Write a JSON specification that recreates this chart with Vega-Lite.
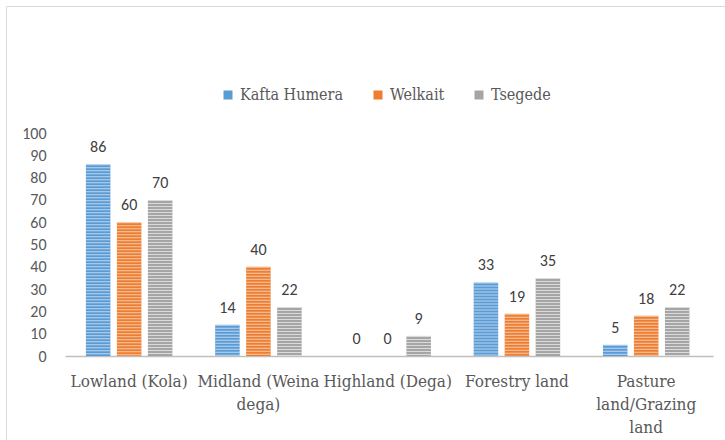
{
  "$schema": "https://vega.github.io/schema/vega-lite/v6.json",
  "autosize": "none",
  "padding": {"left": 6, "top": 6, "right": -1, "bottom": -1},
  "width": 720,
  "height": 435,
  "background": "white",
  "config": {"view": {"stroke": "#d9d9d9", "strokeWidth": 1}},
  "data": {
    "values": [
      {"region": "Lowland (Kola)", "district": "Kafta Humera", "value": 86},
      {"region": "Lowland (Kola)", "district": "Welkait", "value": 60},
      {"region": "Lowland (Kola)", "district": "Tsegede", "value": 70},
      {"region": "Midland (Weina dega)", "district": "Kafta Humera", "value": 14},
      {"region": "Midland (Weina dega)", "district": "Welkait", "value": 40},
      {"region": "Midland (Weina dega)", "district": "Tsegede", "value": 22},
      {"region": "Highland (Dega)", "district": "Kafta Humera", "value": 0},
      {"region": "Highland (Dega)", "district": "Welkait", "value": 0},
      {"region": "Highland (Dega)", "district": "Tsegede", "value": 9},
      {"region": "Forestry land", "district": "Kafta Humera", "value": 33},
      {"region": "Forestry land", "district": "Welkait", "value": 19},
      {"region": "Forestry land", "district": "Tsegede", "value": 35},
      {"region": "Pasture land/Grazing land", "district": "Kafta Humera", "value": 5},
      {"region": "Pasture land/Grazing land", "district": "Welkait", "value": 18},
      {"region": "Pasture land/Grazing land", "district": "Tsegede", "value": 22}
    ]
  },
  "encoding": {
    "x": {
      "field": "region",
      "type": "nominal",
      "sort": ["Lowland (Kola)", "Midland (Weina dega)", "Highland (Dega)", "Forestry land", "Pasture land/Grazing land"],
      "scale": {"range": [59, 707], "paddingInner": 0.331, "paddingOuter": 0.172, "align": 0.47},
      "axis": {
        "title": null,
        "domainColor": "#bfbfbf",
        "domainWidth": 1.5,
        "ticks": false,
        "grid": false,
        "labelAngle": 0,
        "labelFont": "DejaVu Serif Condensed",
        "labelFontSize": 17,
        "labelColor": "#595959",
        "labelPadding": 17,
        "labelLineHeight": 23,
        "labelOverlap": false,
        "labelLimit": 300,
        "offset": -85,
        "labelExpr": "datum.label == 'Midland (Weina dega)' ? ['Midland (Weina', 'dega)'] : datum.label == 'Pasture land/Grazing land' ? ['Pasture', 'land/Grazing', 'land'] : datum.label"
      }
    },
    "xOffset": {
      "field": "district",
      "type": "nominal",
      "sort": ["Kafta Humera", "Welkait", "Tsegede"],
      "scale": {"paddingInner": 0.21, "paddingOuter": 0}
    },
    "y": {
      "field": "value",
      "type": "quantitative",
      "scale": {"domain": [0, 100], "range": [350, 127], "nice": false},
      "axis": {
        "title": null,
        "domain": false,
        "ticks": false,
        "grid": false,
        "values": [0, 10, 20, 30, 40, 50, 60, 70, 80, 90, 100],
        "labelFont": "Carlito, Liberation Sans, sans-serif",
        "labelFontSize": 16,
        "labelColor": "#595959",
        "labelPadding": 8,
        "offset": -48
      }
    }
  },
  "layer": [
    {
      "mark": {"type": "bar"},
      "encoding": {
        "color": {
          "field": "district",
          "type": "nominal",
          "sort": ["Kafta Humera", "Welkait", "Tsegede"],
          "scale": {"domain": ["Kafta Humera", "Welkait", "Tsegede"], "range": ["#5B9BD5", "#ED7D31", "#A5A5A5"]},
          "legend": {
            "title": null,
            "orient": "none",
            "direction": "horizontal",
            "legendX": 214,
            "legendY": 81,
            "symbolType": "square",
            "symbolSize": 81,
            "symbolStrokeWidth": 0,
            "labelFont": "DejaVu Serif Condensed",
            "labelFontSize": 16,
            "labelColor": "#595959",
            "labelOffset": 4,
            "columnPadding": 26
          }
        }
      }
    },
    {
      "mark": {"type": "rule", "color": "white", "strokeWidth": 24.5, "strokeDash": [1, 2], "opacity": 0.6},
      "encoding": {"y2": {"datum": 0}}
    },
    {
      "mark": {"type": "text", "baseline": "alphabetic", "dy": -12, "font": "Carlito, Liberation Sans, sans-serif", "fontSize": 16, "color": "#404040"},
      "encoding": {"text": {"field": "value", "type": "quantitative"}}
    }
  ]
}
